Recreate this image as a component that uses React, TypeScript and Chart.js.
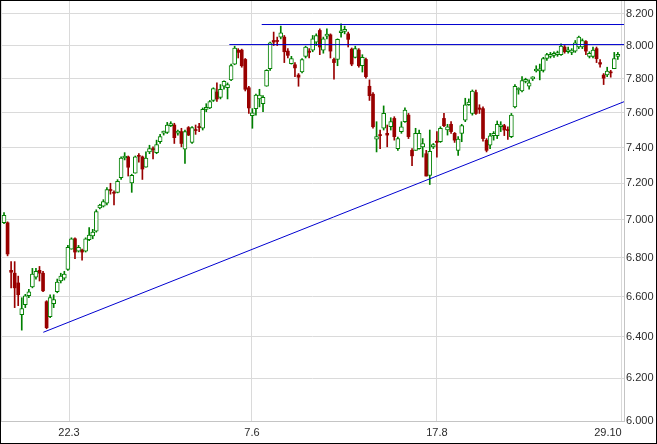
import React, { useEffect, useRef } from "react";
import { Chart, registerables } from "chart.js";

Chart.register(...registerables);

// OHLC values, one per trading day
const opens = [
  6.985, 6.985, 6.735, 6.72, 6.67, 6.51, 6.56, 6.605, 6.65, 6.7,
  6.735, 6.72, 6.575, 6.5, 6.565, 6.625, 6.68, 6.695, 6.74, 6.845,
  6.9, 6.835, 6.84, 6.835, 6.895, 6.915, 6.94, 7.065, 7.075, 7.091,
  7.165, 7.15, 7.15, 7.231, 7.341, 7.347, 7.202, 7.256, 7.355, 7.347,
  7.289, 7.375, 7.392, 7.371, 7.433, 7.482, 7.486, 7.525, 7.529, 7.482,
  7.491, 7.39, 7.514, 7.429, 7.502, 7.52, 7.51, 7.62, 7.628, 7.672,
  7.722, 7.69, 7.756, 7.747, 7.794, 7.889, 7.974, 7.974, 7.917, 7.747,
  7.583, 7.624, 7.681, 7.653, 7.756, 7.861, 8.033, 8.033, 8.054, 8.054,
  7.968, 7.892, 7.885, 7.823, 7.841, 7.936, 7.968, 7.974, 8.023, 8.095,
  7.974, 8.06, 8.068, 7.917, 7.917, 8.081, 8.089, 8.074, 7.98, 7.93,
  7.974, 7.879, 7.917, 7.756, 7.709, 7.448, 7.471, 7.51, 7.481, 7.519,
  7.567, 7.394, 7.491, 7.548, 7.586, 7.384, 7.384, 7.394, 7.404, 7.365,
  7.244, 7.404, 7.436, 7.433, 7.567, 7.5, 7.533, 7.481, 7.384, 7.481,
  7.557, 7.647, 7.596, 7.719, 7.628, 7.624, 7.442, 7.413, 7.467, 7.467,
  7.519, 7.525, 7.5, 7.462, 7.634, 7.734, 7.728, 7.785, 7.756, 7.8,
  7.847, 7.847, 7.851, 7.923, 7.936, 7.942, 7.946, 7.946, 7.993, 7.964,
  7.96, 7.968, 7.993, 7.993, 8.027, 7.936, 7.936, 7.983, 7.898, 7.823,
  7.823, 7.841, 7.861, 7.936,
];
const highs = [
  7.04, 6.99, 6.78, 6.78, 6.705, 6.595, 6.612, 6.637, 6.745, 6.745,
  6.755, 6.73, 6.58, 6.61, 6.61, 6.69, 6.72, 6.73, 6.865, 6.905,
  6.905, 6.865, 6.845, 6.905, 6.96, 6.95, 7.055, 7.085, 7.11, 7.176,
  7.2, 7.158, 7.22, 7.347, 7.371, 7.352, 7.25, 7.352, 7.365, 7.352,
  7.375, 7.413, 7.404, 7.442, 7.475, 7.494, 7.544, 7.548, 7.539, 7.5,
  7.51, 7.5, 7.52, 7.52, 7.529, 7.539, 7.628, 7.653, 7.672, 7.747,
  7.776, 7.766, 7.789, 7.776, 7.889, 7.998, 7.983, 7.98, 7.923, 7.756,
  7.624, 7.709, 7.738, 7.7, 7.855, 8.023, 8.085, 8.054, 8.122, 8.064,
  7.983, 7.936, 7.898, 7.832, 7.923, 7.998, 7.983, 8.064, 8.074, 8.105,
  8.054, 8.105, 8.074, 7.926, 8.043, 8.136, 8.122, 8.085, 7.987, 7.998,
  7.983, 7.946, 7.926, 7.794, 7.719, 7.548, 7.5, 7.64, 7.529, 7.571,
  7.577, 7.46, 7.548, 7.628, 7.596, 7.394, 7.51, 7.5, 7.451, 7.384,
  7.5, 7.423, 7.491, 7.519, 7.596, 7.533, 7.548, 7.486, 7.462, 7.533,
  7.685, 7.681, 7.734, 7.734, 7.647, 7.634, 7.451, 7.481, 7.491, 7.552,
  7.548, 7.533, 7.519, 7.596, 7.766, 7.747, 7.813, 7.804, 7.794, 7.813,
  7.879, 7.889, 7.93, 7.955, 7.96, 7.964, 7.968, 8.012, 8.002, 7.993,
  7.983, 8.033, 8.06, 8.043, 8.033, 7.964, 7.993, 7.993, 7.917, 7.832,
  7.87, 7.851, 7.96, 7.96,
];
const lows = [
  6.98, 6.81, 6.645, 6.545, 6.555, 6.433, 6.545, 6.595, 6.645, 6.69,
  6.68, 6.625, 6.44, 6.495, 6.545, 6.62, 6.67, 6.685, 6.735, 6.845,
  6.795, 6.83, 6.787, 6.83, 6.89, 6.9, 6.935, 7.06, 7.07, 7.082,
  7.14, 7.082, 7.147, 7.221, 7.33, 7.24, 7.15, 7.256, 7.318, 7.221,
  7.289, 7.365, 7.336, 7.365, 7.423, 7.471, 7.48, 7.52, 7.423, 7.471,
  7.404, 7.31, 7.468, 7.423, 7.475, 7.491, 7.5, 7.606, 7.624, 7.666,
  7.666, 7.681, 7.738, 7.681, 7.79, 7.885, 7.926, 7.87, 7.728, 7.596,
  7.51, 7.586, 7.634, 7.606, 7.756, 7.851, 8.002, 8.002, 8.043, 7.898,
  7.926, 7.889, 7.813, 7.756, 7.836, 7.926, 7.926, 7.964, 8.002, 7.946,
  7.955, 8.043, 7.926, 7.798, 7.879, 8.054, 8.074, 7.993, 7.879, 7.926,
  7.87, 7.841, 7.804, 7.672, 7.51, 7.375, 7.394, 7.5, 7.404, 7.5,
  7.442, 7.384, 7.481, 7.544, 7.451, 7.298, 7.384, 7.39, 7.346, 7.24,
  7.193, 7.394, 7.346, 7.429, 7.519, 7.471, 7.481, 7.429, 7.356, 7.433,
  7.548, 7.643, 7.586, 7.59, 7.596, 7.436, 7.375, 7.394, 7.442, 7.451,
  7.491, 7.468, 7.446, 7.456, 7.628, 7.709, 7.722, 7.776, 7.738, 7.79,
  7.841, 7.794, 7.841, 7.911, 7.926, 7.93, 7.936, 7.942, 7.955, 7.955,
  7.946, 7.96, 7.983, 7.983, 7.946, 7.926, 7.926, 7.898, 7.87, 7.766,
  7.813, 7.81, 7.861, 7.917,
];
const closes = [
  7.025, 6.82, 6.725, 6.645, 6.61, 6.54, 6.605, 6.625, 6.715, 6.73,
  6.72, 6.63, 6.445, 6.595, 6.585, 6.675, 6.705, 6.715, 6.855, 6.9,
  6.83, 6.855, 6.83, 6.9, 6.92, 6.935, 7.045, 7.08, 7.1, 7.165,
  7.16, 7.145, 7.211, 7.341, 7.352, 7.289, 7.244, 7.347, 7.35, 7.279,
  7.341, 7.394, 7.388, 7.417, 7.462, 7.491, 7.529, 7.533, 7.456, 7.491,
  7.423, 7.491, 7.471, 7.514, 7.497, 7.514, 7.62, 7.63, 7.666, 7.742,
  7.681, 7.738, 7.785, 7.766, 7.88, 7.987, 7.96, 7.879, 7.738, 7.628,
  7.6, 7.704, 7.704, 7.691, 7.851, 8.019, 8.023, 8.027, 8.081, 7.964,
  7.942, 7.923, 7.866, 7.81, 7.917, 7.993, 7.96, 8.043, 8.064, 7.993,
  8.043, 8.066, 7.968, 7.898, 8.04, 8.085, 8.095, 8.04, 7.889, 7.983,
  7.879, 7.93, 7.813, 7.7, 7.519, 7.462, 7.468, 7.596, 7.471, 7.548,
  7.462, 7.451, 7.519, 7.615, 7.462, 7.353, 7.481, 7.481, 7.423, 7.24,
  7.379, 7.417, 7.429, 7.51, 7.525, 7.519, 7.491, 7.442, 7.448, 7.525,
  7.647, 7.662, 7.728, 7.596, 7.62, 7.451, 7.384, 7.467, 7.481, 7.533,
  7.529, 7.5, 7.497, 7.586, 7.756, 7.738, 7.79, 7.794, 7.776, 7.806,
  7.855, 7.861, 7.923, 7.946, 7.946, 7.949, 7.955, 7.998, 7.964, 7.974,
  7.974, 8.019, 8.054, 8.033, 7.968, 7.955, 7.974, 7.922, 7.889, 7.804,
  7.847, 7.836, 7.923, 7.946,
];

// Axis ticks
const xTickPositions = [-0.85, 18.32, 69.89, 122.0, 174.1];
const xTickLabels = ["", "22.3", "7.6", "17.8", "29.10"];
const yTickValues = [6.0, 6.2, 6.4, 6.6, 6.8, 7.0, 7.2, 7.4, 7.6, 7.8, 8.0, 8.2];
const xMin = -0.85;
const xMax = 174.74;
const yMin = 6.0;
const yMax = 8.28;

// Drawn trend lines (day index, price)
const resistanceUpper = [
  { x: 72.63, y: 8.132 },
  { x: 174.74, y: 8.132 },
];
const resistanceLower = [
  { x: 63.5, y: 8.008 },
  { x: 174.74, y: 8.008 },
];
const supportLine = [
  { x: 11.07, y: 6.4224 },
  { x: 174.74, y: 7.6646 },
];

const GREEN = "#008000";
const RED = "#990000";
const BLUE = "#0000d0";
const GRID = "#dadada";
const BORDER = "#c4c4c4";
const TEXT = "#2a2a2a";
const FONT = { family: "'Liberation Sans', Arial, sans-serif", size: 11 };

export default function App() {
  const ref = useRef<HTMLCanvasElement>(null);

  useEffect(() => {
    document.body.style.margin = "0";
    const canvas = ref.current;
    if (!canvas) return;
    const idx = opens.map((_, i) => i);
    const upIdx = idx.filter((i) => closes[i] >= opens[i]);
    const downIdx = idx.filter((i) => closes[i] < opens[i]);

    const lineDs = (data: { x: number; y: number }[]) => ({
      type: "line" as const,
      data,
      borderColor: BLUE,
      borderWidth: 1,
      pointRadius: 0,
      fill: false,
      order: 0,
    });

    const chart = new Chart(canvas, {
      type: "bar",
      data: {
        datasets: [
          lineDs(resistanceUpper) as any,
          lineDs(resistanceLower) as any,
          lineDs(supportLine) as any,
          {
            label: "up",
            data: upIdx.map((i) => ({ x: i, y: [opens[i], closes[i]] })) as any,
            backgroundColor: "#ffffff",
            borderColor: GREEN,
            borderWidth: 1,
            borderSkipped: false,
            barThickness: 4,
            minBarLength: 2,
            grouped: false,
            order: 1,
          },
          {
            label: "down",
            data: downIdx.map((i) => ({ x: i, y: [closes[i], opens[i]] })) as any,
            backgroundColor: RED,
            borderWidth: 0,
            borderSkipped: false,
            barThickness: 3,
            minBarLength: 1,
            grouped: false,
            order: 1,
          },
          {
            label: "wick",
            data: idx.map((i) => ({ x: i, y: [lows[i], highs[i]] })) as any,
            backgroundColor: idx.map((i) => (closes[i] >= opens[i] ? GREEN : RED)),
            borderWidth: 0,
            barThickness: 1,
            minBarLength: 1,
            grouped: false,
            order: 2,
          },
        ],
      },
      options: {
        animation: false,
        responsive: false,
        maintainAspectRatio: false,
        devicePixelRatio: 1,
        layout: { padding: 0 },
        plugins: { legend: { display: false }, tooltip: { enabled: false } },
        scales: {
          x: {
            type: "linear",
            min: xMin,
            max: xMax,
            bounds: "data",
            offset: false,
            grid: { color: GRID, drawTicks: false, offset: false },
            border: { color: BORDER },
            ticks: {
              align: "inner",
              autoSkip: false,
              maxRotation: 0,
              minRotation: 0,
              padding: 5,
              color: TEXT,
              font: FONT,
              callback: (_v: any, i: number) => xTickLabels[i] ?? "",
            },
            afterBuildTicks: (s: any) => {
              s.ticks = xTickPositions.map((v) => ({ value: v }));
            },
            afterFit: (s: any) => {
              s.height = 22;
              s.paddingLeft = 0;
              s.paddingRight = 0;
            },
          },
          y: {
            type: "logarithmic",
            position: "right",
            min: yMin,
            max: yMax,
            bounds: "data",
            grid: { color: GRID, drawTicks: false },
            border: { color: BORDER },
            ticks: {
              padding: 2,
              color: TEXT,
              font: FONT,
              autoSkip: false,
              callback: (v: any) => Number(v).toFixed(3),
            },
            afterBuildTicks: (s: any) => {
              s.ticks = yTickValues.map((v) => ({ value: v }));
            },
            afterFit: (s: any) => {
              s.width = 32;
              s.paddingTop = 0;
              s.paddingBottom = 0;
            },
          },
        } as any,
      },
    });
    return () => chart.destroy();
  }, []);

  return (
    <div
      style={{
        position: "absolute",
        left: 0,
        top: 0,
        width: 657,
        height: 444,
        boxSizing: "border-box",
        border: "1px solid #000",
        background: "#fff",
      }}
    >
      <canvas ref={ref} width={655} height={442} style={{ display: "block" }} />
    </div>
  );
}
